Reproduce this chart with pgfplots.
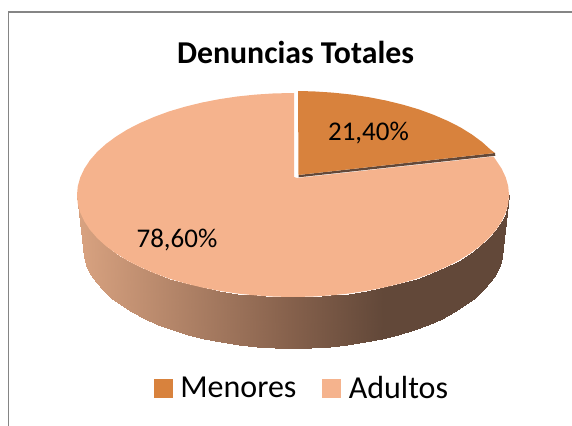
\documentclass[border=0pt]{standalone}
\usepackage{fontspec}
\setmainfont{Carlito}
\usepackage{pgfplots}
\pgfplotsset{compat=1.18}
\definecolor{menores}{RGB}{216,130,61}
\definecolor{adultos}{RGB}{245,179,141}
\definecolor{lado}{RGB}{98,72,57}
\begin{document}
\begin{tikzpicture}
\begin{axis}[
    scale only axis,
    width=572bp, height=426bp,
    xmin=0, xmax=572, ymin=0, ymax=426,
    y dir=reverse,
    hide axis,
    colormap={side}{rgb255(0cm)=(216,162,128); rgb255(4.9cm)=(134,97,76); rgb255(7.1cm)=(98,72,57); rgb255(10cm)=(98,72,57)},
    point meta min=80, point meta max=507,
    legend columns=2,
    legend style={at={(axis cs:302,388)}, anchor=center, draw=none, fill=none,
        font=\fontsize{32bp}{34bp}\selectfont, inner sep=0pt,
        /tikz/every odd column/.append style={column sep=6bp},
        /tikz/every even column/.append style={column sep=24bp}},
    legend image code/.code={\fill[#1] (0bp,-9bp) rectangle (18bp,9bp);},
]
\addlegendimage{menores}
\addlegendentry{Menores}
\addlegendimage{adultos}
\addlegendentry{Adultos}

\path (axis cs:0,0) rectangle (axis cs:572,426);

% marco
\addplot[forget plot, color=black!48, line width=1.5bp] coordinates {(8.5,426)(8.5,12)(572,12)};

% lateral
\addplot[forget plot, surf, shader=interp, mesh/rows=2, point meta=explicit] table[x=x, y=y, meta=m] {
x y m
77 195 77
77.8 203.9 78
80.3 212.7 80
84.4 221.4 84
90 229.9 90
97.2 238.1 97
105.9 246 106
116.1 253.5 116
127.5 260.6 128
140.3 267.1 140
154.2 273.1 154
169.1 278.6 169
185 283.3 185
201.7 287.4 202
219.1 290.8 219
237.1 293.5 237
255.5 295.4 256
274.2 296.6 274
293 297 293
311.8 296.6 312
330.5 295.4 331
348.9 293.5 349
366.9 290.8 367
384.3 287.4 384
401 283.3 401
416.9 278.6 417
431.8 273.1 432
445.7 267.1 446
458.5 260.6 459
469.9 253.5 470
480.1 246 480
488.8 238.1 489
496 229.9 496
501.6 221.4 502
505.7 212.7 506
508.2 203.9 508
509 195 509
83 248 83
83.8 256.7 84
86.2 265.4 86
90.2 273.9 90
95.7 282.2 96
102.7 290.3 103
111.1 298 111
121 305.4 121
132.1 312.3 132
144.5 318.7 145
158 324.6 158
172.5 329.9 173
188 334.6 188
204.3 338.6 204
221.2 342 221
238.7 344.6 239
256.5 346.5 257
274.7 347.6 275
293 348 293
311.3 347.6 311
329.5 346.5 330
347.3 344.6 347
364.8 342 365
381.7 338.6 382
398 334.6 398
413.5 329.9 414
428 324.6 428
441.5 318.7 442
453.9 312.3 454
465 305.4 465
474.9 298 475
483.3 290.3 483
490.3 282.2 490
495.8 273.9 496
499.8 265.4 500
502.2 256.7 502
503 248 503
};

% Adultos 78,6
\addplot[forget plot, draw=none, fill=adultos] coordinates {
(294,93)(294,177)(297,178)(493.5,156.5)
(501.6,168.6)(505.7,177.3)(508.2,186.1)(509,195)
(508.2,203.9)(505.7,212.7)(501.6,221.4)(496,229.9)(488.8,238.1)(480.1,246)
(469.9,253.5)(458.5,260.6)(445.7,267.1)(431.8,273.1)(416.9,278.6)(401,283.3)
(384.3,287.4)(366.9,290.8)(348.9,293.5)(330.5,295.4)(311.8,296.6)(293,297)
(274.2,296.6)(255.5,295.4)(237.1,293.5)(219.1,290.8)(201.7,287.4)(185,283.3)
(169.1,278.6)(154.2,273.1)(140.3,267.1)(127.5,260.6)(116.1,253.5)(105.9,246)
(97.2,238.1)(90,229.9)(84.4,221.4)(80.3,212.7)(77.8,203.9)(77,195)
(77.8,186.1)(80.3,177.3)(84.4,168.6)(90,160.1)(97.2,151.9)(105.9,144)
(116.1,136.5)(127.5,129.4)(140.3,122.9)(154.2,116.9)(169.1,111.4)(185,106.7)
(201.7,102.6)(219.1,99.2)(237.1,96.5)(255.5,94.6)(274.2,93.4)
} --cycle;

% borde oscuro de Menores
\addplot[forget plot, draw=none, fill=lado] coordinates {
(298.5,175)(495,153)(495.3,155.8)(298.5,177.3)
} --cycle;

% Menores 21,4
\addplot[forget plot, draw=none, fill=menores] coordinates {
(298,91)(313.8,91.4)(332.5,92.6)(350.9,94.5)(368.9,97.2)(386.3,100.6)(403,104.7)
(418.9,109.4)(433.8,114.9)(447.7,120.9)(460.5,127.4)(471.9,134.5)(482.1,142)
(490.8,149.9)(495,153)(298.5,175)
} --cycle;

\node[font=\fontsize{31.8bp}{34bp}\selectfont\bfseries] at (axis cs:295.5,52) {Denuncias Totales};
\node[font=\fontsize{27bp}{30bp}\selectfont] at (axis cs:368.5,133) {21,40\%};
\node[font=\fontsize{27bp}{30bp}\selectfont] at (axis cs:177,240) {78,60\%};
\end{axis}
\end{tikzpicture}
\end{document}
